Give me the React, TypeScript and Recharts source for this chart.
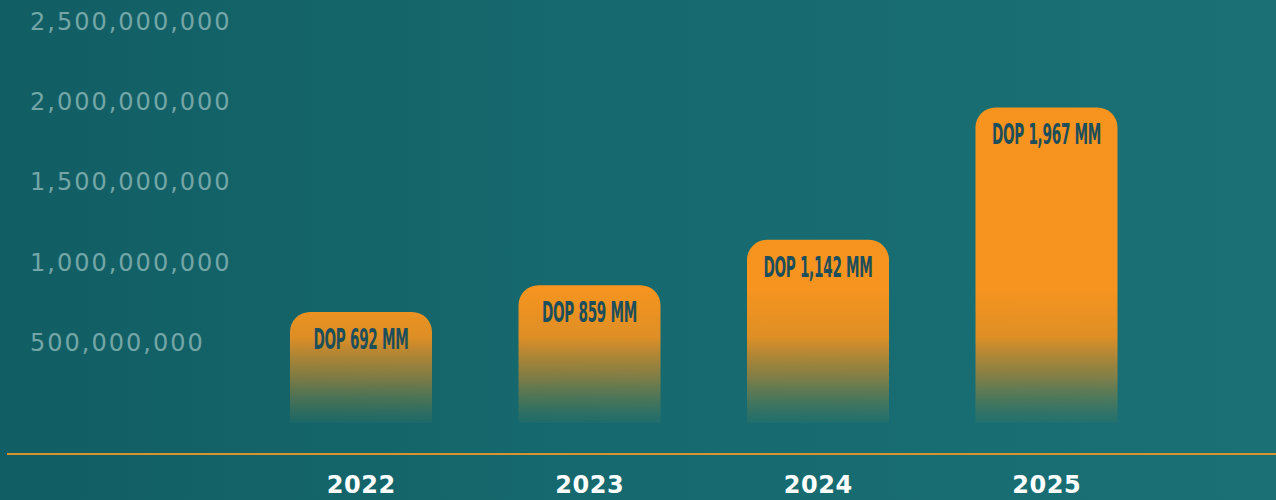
import React from 'react';
import { BarChart, Bar, XAxis, YAxis, LabelList } from 'recharts';

const years = ['2022', '2023', '2024', '2025'];
const amounts = [692000000, 859000000, 1142000000, 1967000000];
const yTicks = [500000000, 1000000000, 1500000000, 2000000000, 2500000000];

const data = years.map((year, i) => ({ year, amount: amounts[i] }));

const fmtMM = (v: number) => `DOP ${Math.round(v / 1000000).toLocaleString('en-US')} MM`;

const YTick = (props: any) => {
  const { y, payload } = props;
  return (
    <text
      x={30}
      y={y}
      dominantBaseline="central"
      fill="#74a6a7"
      fontFamily="DejaVu Sans, sans-serif"
      fontSize={24}
      letterSpacing={2}
    >
      {Number(payload.value).toLocaleString('en-US')}
    </text>
  );
};

const XTick = (props: any) => {
  const { x, y, payload } = props;
  return (
    <text
      x={x}
      y={y + 62}
      textAnchor="middle"
      dominantBaseline="central"
      fill="#ffffff"
      fontFamily="DejaVu Sans, sans-serif"
      fontWeight="bold"
      fontSize={24}
      letterSpacing={0.5}
    >
      {payload.value}
    </text>
  );
};

const BarLabel = (props: any) => {
  const { x, y, width, value } = props;
  const cx = x + width / 2;
  return (
    <text
      transform={`translate(${cx},${y + 27}) scale(0.54,1)`}
      textAnchor="middle"
      dominantBaseline="central"
      fill="#1c4e5b"
      fontFamily="DejaVu Sans Condensed, Liberation Sans Narrow, sans-serif"
      fontWeight="bold"
      fontSize={28}
      letterSpacing={-0.5}
    >
      {fmtMM(value)}
    </text>
  );
};

export default function App() {
  return (
    <div
      style={{
        position: 'fixed',
        top: 0,
        left: 0,
        width: 1276,
        height: 500,
        background: 'linear-gradient(90deg, #115e64 0%, #166a6f 50%, #1a7075 100%)',
        overflow: 'hidden',
      }}
    >
      <BarChart
        width={1276}
        height={500}
        data={data}
        margin={{ top: 22, right: 115, left: 0, bottom: 0 }}
      >
        <defs>
          <linearGradient id="barFade" x1="0" y1="290" x2="0" y2="425" gradientUnits="userSpaceOnUse">
            <stop offset="0%" stopColor="#f6941f" stopOpacity={1} />
            <stop offset="35%" stopColor="#ef921f" stopOpacity={0.92} />
            <stop offset="65%" stopColor="#c48a2c" stopOpacity={0.6} />
            <stop offset="100%" stopColor="#8a8a3a" stopOpacity={0.05} />
          </linearGradient>
        </defs>
        <XAxis
          dataKey="year"
          axisLine={false}
          tickLine={false}
          tickSize={0}
          tickMargin={0}
          height={77}
          tick={<XTick />}
        />
        <YAxis
          width={247}
          domain={[0, 2500000000]}
          ticks={yTicks}
          axisLine={false}
          tickLine={false}
          tick={<YTick />}
        />
        <Bar
          dataKey="amount"
          barSize={142}
          fill="url(#barFade)"
          radius={[20, 20, 0, 0]}
          isAnimationActive={false}
        >
          <LabelList dataKey="amount" content={<BarLabel />} />
        </Bar>
      </BarChart>
      <div
        style={{
          position: 'absolute',
          top: 453,
          left: 7,
          right: 0,
          height: 2,
          background: '#d8942c',
        }}
      />
    </div>
  );
}
